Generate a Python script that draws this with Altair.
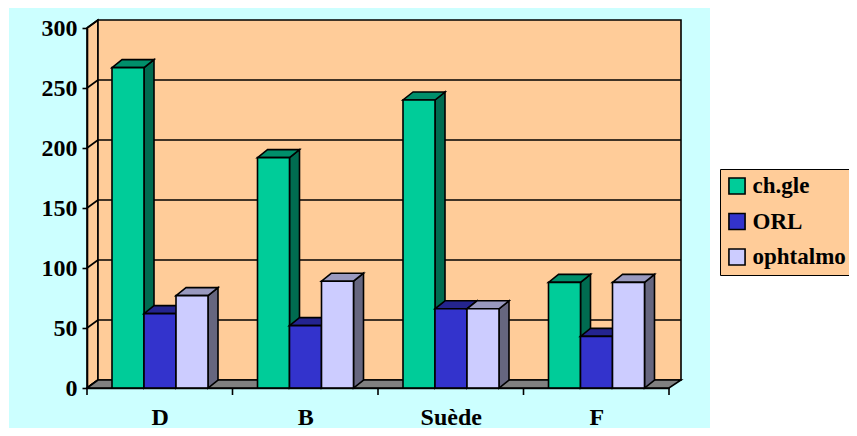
import altair as alt
import pandas as pd

categories = ["D", "B", "Suède", "F"]
series_names = ["ch.gle", "ORL", "ophtalmo"]
chgle = [267, 192, 240, 88]
orl = [62, 52, 66, 43]
ophtalmo = [77, 89, 66, 88]
y_ticks = [0, 50, 100, 150, 200, 250, 300]

series_values = [chgle, orl, ophtalmo]
front = ["#00CC99", "#3333CC", "#CCCCFF"]
top = ["#008F6B", "#24248F", "#9999BF"]
side = ["#006B50", "#1A1A66", "#66667F"]

# pixel geometry converted to scale units
PW, PH = 582, 360
XU, YU = 145.5, 1.2
def px(v): return v / XU
def py(v): return v / YU
BAR_W, BAR_OFF, BAR_DX, BAR_DY = px(32), px(25), px(10), py(8)
WALL_DX, WALL_DY = px(11), py(8)
WALL_R = px(681 - 87)
LW = 1.6

xs = alt.Scale(domain=[0, 4], range=[0, PW], nice=False, zero=False)
ys = alt.Scale(domain=[0, 300], range=[PH, 0], nice=False, zero=False)
label_expr = "[" + ",".join(f"'{c}'" for c in categories) + "][floor(datum.value)]"
x_axis = alt.Axis(
    values=[0.5, 1.5, 2.5, 3.5], labelExpr=label_expr, title=None, grid=False, ticks=False,
    domainColor="black", domainWidth=LW, labelFont="Liberation Serif", labelFontWeight="bold",
    labelFontSize=24, labelColor="black", labelPadding=29, labelBaseline="middle", zindex=1)
y_axis = alt.Axis(
    values=y_ticks, title=None, grid=False, tickColor="black", tickWidth=LW, tickSize=5,
    domainColor="black", domainWidth=LW, labelFont="Liberation Serif", labelFontWeight="bold",
    labelFontSize=24, labelColor="black", labelPadding=5, zindex=1)
def X(f): return alt.X(f, type="quantitative", scale=xs, axis=x_axis)
def Y(f): return alt.Y(f, type="quantitative", scale=ys, axis=y_axis)

layers = []

# cyan background
bg = pd.DataFrame({"x": [px(9 - 87)], "x2": [px(710 - 87)], "y": [py(388 - 5)], "y2": [py(388 - 436)]})
layers.append(alt.Chart(bg).mark_rect(color="#CCFFFF").encode(
    x=X("x"), x2="x2", y=Y("y"), y2="y2"))

# side wall
sw = pd.DataFrame({"x": [0, WALL_DX], "y": [300, 300 + WALL_DY], "y2": [0, WALL_DY]})
layers.append(alt.Chart(sw).mark_area(orient="vertical", color="#FFCC99", stroke="black", strokeWidth=LW).encode(
    x=X("x"), y=Y("y"), y2="y2"))

# back wall
bw = pd.DataFrame({"x": [WALL_DX], "x2": [WALL_R], "y": [300 + WALL_DY], "y2": [WALL_DY]})
layers.append(alt.Chart(bw).mark_rect(color="#FFCC99", stroke="black", strokeWidth=LW).encode(
    x=X("x"), x2="x2", y=Y("y"), y2="y2"))

# gridlines: back wall, and diagonal on side wall
grid = pd.DataFrame({"x": WALL_DX, "x2": WALL_R, "y": [v + WALL_DY for v in y_ticks[1:-1]]})
layers.append(alt.Chart(grid).mark_rule(color="black", strokeWidth=LW).encode(
    x=X("x"), x2="x2", y=Y("y")))
diag = pd.DataFrame([{"id": v, "x": a, "y": v + b} for v in y_ticks for a, b in ((0, 0), (WALL_DX, WALL_DY))])
layers.append(alt.Chart(diag).mark_line(color="black", strokeWidth=LW).encode(
    x=X("x"), y=Y("y"), detail="id:N"))

# floor
fl = pd.DataFrame({"y": [0, WALL_DY], "x": [0, WALL_DX], "x2": [px(669 - 87), WALL_R]})
layers.append(alt.Chart(fl).mark_area(orient="horizontal", color="#808080", stroke="black", strokeWidth=LW).encode(
    y=Y("y"), x=X("x"), x2="x2"))

# bars: back faces first, series by series
for s, (name, vals) in enumerate(zip(series_names, series_values)):
    sides, tops, fronts = [], [], []
    for i, (c, v) in enumerate(zip(categories, vals)):
        xl = i + BAR_OFF + s * BAR_W
        xr = xl + BAR_W
        sides += [{"id": c, "x": xr, "y": v, "y2": 0},
                  {"id": c, "x": xr + BAR_DX, "y": v + BAR_DY, "y2": BAR_DY}]
        tops += [{"id": c, "y": v, "x": xl, "x2": xr},
                 {"id": c, "y": v + BAR_DY, "x": xl + BAR_DX, "x2": xr + BAR_DX}]
        fronts.append({"cat": c, "series": name, "x": xl, "x2": xr, "v": v, "base": 0})
    layers.append(alt.Chart(pd.DataFrame(sides)).mark_area(
        orient="vertical", color=side[s], stroke="black", strokeWidth=LW).encode(
        x=X("x"), y=Y("y"), y2="y2", detail="id:N"))
    layers.append(alt.Chart(pd.DataFrame(tops)).mark_area(
        orient="horizontal", color=top[s], stroke="black", strokeWidth=LW).encode(
        y=Y("y"), x=X("x"), x2="x2", detail="id:N"))
    layers.append(alt.Chart(pd.DataFrame(fronts)).mark_rect(stroke="black", strokeWidth=LW).encode(
        x=X("x"), x2="x2", y=Y("v"), y2="base",
        color=alt.Color("series:N",
                        scale=alt.Scale(domain=series_names, range=front),
                        sort=series_names,
                        legend=alt.Legend(
                            title=None, orient="none", legendX=633, legendY=141,
                            fillColor="#FFCC99", strokeColor="black", padding=5.5,
                            symbolType="square", symbolSize=260, symbolStrokeColor="black",
                            symbolStrokeWidth=LW, symbolOpacity=1, rowPadding=11.5,
                            labelFont="Liberation Serif", labelFontWeight="bold",
                            labelFontSize=23, labelColor="black", labelOffset=4,
                            labelLimit=200))))

# category ticks
ticks = pd.DataFrame({"x": [0, 1, 2, 3, 4], "y": 0.0, "y2": py(-7)})
layers.append(alt.Chart(ticks).mark_rule(color="black", strokeWidth=LW).encode(
    x=X("x"), y=Y("y"), y2="y2"))

chart = alt.layer(*layers).properties(
    width=PW, height=PH,
    autosize=alt.AutoSizeParams(type="none"),
    padding={"left": 79, "top": 20, "right": 180, "bottom": 40},
).configure_view(stroke=None).configure(background="white")

chart.save("out.html", embed_options={"renderer": "svg", "actions": False})
